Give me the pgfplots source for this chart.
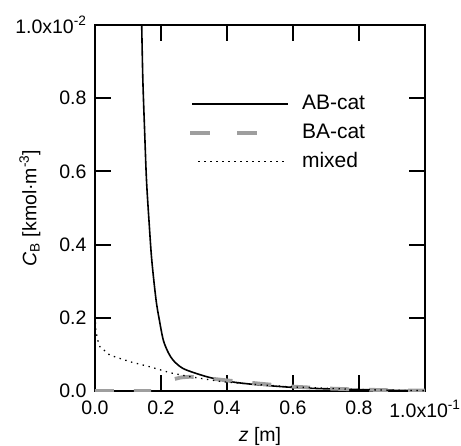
\documentclass[border=0pt]{standalone}
\usepackage{pgfplots}
\pgfplotsset{compat=1.18}
\usepackage{fontspec}
\setmainfont{Liberation Sans}
\definecolor{bagray}{RGB}{158,158,158}
\pgfplotsset{
  balegend/.style={legend image code/.code={\draw[##1, dash pattern=on 20pt off 27pt] (-2pt,0pt) -- (65pt,0pt); \path (108pt,0pt);}},
  mixlegend/.style={legend image code/.code={\draw[##1] (6pt,0pt) -- (92pt,0pt); \path (0pt,0pt) (108pt,0pt);}},
}
\begin{document}
\begin{tikzpicture}
\begin{axis}[
  scale only axis,
  width=330pt, height=366pt,
  xmin=0, xmax=1, ymin=0, ymax=1,
  axis line style={line width=1.9pt},
  every tick/.style={black, line width=1.9pt},
  tick align=inside,
  major tick length=16pt,
  xtick={0,0.2,0.4,0.6,0.8,1.0},
  xticklabels={0.0,0.2,0.4,0.6,0.8,1.0x10\textsuperscript{-1}},
  ytick={0,0.2,0.4,0.6,0.8,1.0},
  yticklabels={0.0,0.2,0.4,0.6,0.8,1.0x10\textsuperscript{-2}},
  tick label style={font=\fontsize{19.5}{22}\selectfont},
  xticklabel style={yshift=-6pt},
  yticklabel style={xshift=-5pt},
  label style={font=\fontsize{19.5}{22}\selectfont},
  xlabel={\textit{z} [m]},
  ylabel={\textit{C}\textsubscript{B} [kmol\textperiodcentered m\textsuperscript{-3}]},
  xlabel style={at={(axis description cs:0.5,-0.123)}, anchor=center},
  ylabel style={at={(axis description cs:-0.197,0.5)}, anchor=center},
  unbounded coords=jump,
  clip=true,
  legend cell align=left,
  legend style={at={(0.282,0.812)}, anchor=north west, draw=none, fill=none,
    inner sep=0pt,
    font=\fontsize{21}{24}\selectfont, row sep=9.5pt,
    nodes={inner sep=0pt, text height=15pt, text depth=4.5pt}},
  legend image code/.code={\draw[#1] (0pt,0pt) -- (96pt,0pt); \path (108pt,0pt);},
]
\addplot[black, line width=1.6pt, smooth] coordinates {
(0.1405,1.05) (0.1415,1.0) (0.145,0.85) (0.150,0.72) (0.156,0.577) (0.164,0.46)
(0.172,0.358) (0.185,0.249) (0.195,0.194) (0.207,0.139) (0.222,0.105) (0.236,0.085)
(0.256,0.068) (0.278,0.057) (0.339,0.039) (0.4,0.027) (0.47,0.019) (0.596,0.010)
(0.7,0.006) (0.8,0.004) (0.9,0.002) (1.0,0.001)
};
\addlegendentry{AB-cat}
\addplot[bagray, line width=3.8pt, dash pattern=on 19pt off 20pt, balegend] coordinates {
(0,0) (0.17,0) (0.2,nan) (0.242,0.033) (0.26,0.037) (0.288,0.039) (0.33,0.036)
(0.4,0.029) (0.5,0.020) (0.6,0.012) (0.7,0.007) (0.8,0.004) (0.9,0.002) (1.0,0.001)
};
\addlegendentry{BA-cat}
\addplot[black, line width=1.3pt, dash pattern=on 1.4pt off 4.6pt, mixlegend] coordinates {
(0,0.22) (0.002,0.17) (0.008,0.14) (0.015,0.121) (0.045,0.098) (0.106,0.080)
(0.167,0.066) (0.227,0.050) (0.288,0.039) (0.388,0.025) (0.47,0.019)
(0.6,0.011) (0.8,0.004) (0.9,0.002) (1.0,0.001)
};
\addlegendentry{mixed}
\end{axis}
\pgfresetboundingbox
\path[use as bounding box] (-95pt,-54pt) rectangle (366pt,391pt);
\end{tikzpicture}
\end{document}
